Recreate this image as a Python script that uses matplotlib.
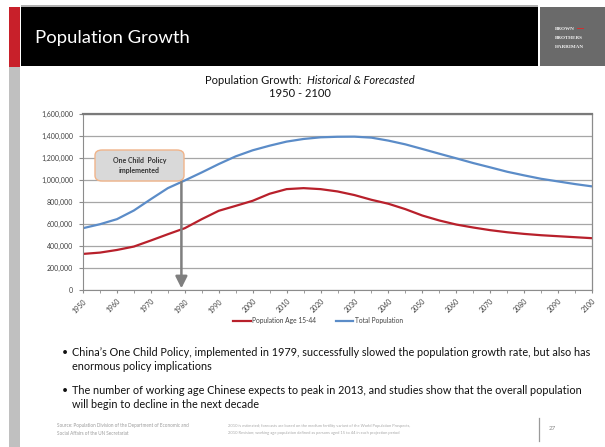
import matplotlib
matplotlib.use("Agg")
import matplotlib.pyplot as plt
from matplotlib.patches import Rectangle, FancyBboxPatch
from matplotlib.lines import Line2D
from matplotlib.ticker import FuncFormatter, MultipleLocator

# ---------------- data ----------------
years = list(range(1950, 2101, 5))
total_population = [562000, 598000, 644000, 723000, 826000, 926000, 996000, 1069000,
                    1145000, 1215000, 1270000, 1312000, 1349000, 1373000, 1388000, 1393000,
                    1394000, 1385000, 1358000, 1324000, 1282000, 1239000, 1197000, 1154000,
                    1115000, 1075000, 1042000, 1011000, 987000, 963000, 942000]
population_15_44 = [328000, 340000, 364000, 395000, 450000, 507000, 562000, 644000,
                    720000, 765000, 811000, 875000, 917000, 926000, 917000, 896000,
                    863000, 820000, 784000, 735000, 677000, 632000, 595000, 568000,
                    544000, 525000, 510000, 498000, 489000, 480000, 471000]
x_tick_years = list(range(1950, 2101, 10))
y_ticks = list(range(0, 1600001, 200000))
policy_year = 1979

chart_title_plain = "Population Growth:  "
chart_title_italic = "Historical & Forecasted"
chart_subtitle = "1950 - 2100"
slide_title = "Population Growth"
annotation_text = "One Child  Policy\nimplemented"
series_labels = ["Population Age 15-44", "Total Population"]
bullets = [
    ("China\u2019s One Child Policy, implemented in 1979, successfully slowed the population growth rate, but also has",
     "enormous policy implications"),
    ("The number of working age Chinese expects to peak in 2013, and studies show that the overall population",
     "will begin to decline in the next decade"),
]
source_text = "Source: Population Division of the Department of Economic and\nSocial Affairs of the UN Secretariat"
note_text = ("2010 is estimated; forecasts are based on the medium fertility variant of the World Population Prospects,\n"
             "2010 Revision; working age population defined as persons aged 15 to 44 in each projection period")
page_number = "27"

# ---------------- figure ----------------
W, H = 605, 447
fig = plt.figure(figsize=(W / 100, H / 100), dpi=100)
fig.patch.set_facecolor("white")
FONT = ["Lato", "DejaVu Sans"]


def fx(px):
    return px / W


def fy(py):
    return 1 - py / H


def rect(x0, y0, x1, y1, color, **kw):
    fig.patches.append(Rectangle((fx(x0), fy(y1)), fx(x1) - fx(x0), fy(y0) - fy(y1),
                                 transform=fig.transFigure, facecolor=color,
                                 edgecolor="none", **kw))


# header
rect(9, 7, 19.5, 67, "#c8202a")
rect(9, 67, 19.5, 447, "#c0c0c0")
rect(21, 7, 538, 66, "#000000")
rect(540, 7, 605, 66, "#6a6a6a")
rect(21, 5.5, 538, 7, "#b0b0b0")
fig.text(fx(35), fy(38), slide_title, color="white", fontsize=13.3, family=FONT,
         va="center", ha="left")
for i, word in enumerate(["BROWN", "BROTHERS", "HARRIMAN"]):
    fig.text(fx(555), fy(28.5 + 9.5 * i), word, color="#f0f0f0", fontsize=3.7,
             family=["Liberation Serif", "DejaVu Serif"], weight="bold",
             va="center", ha="left")
rect(577, 27.8, 584, 29.3, "#d03030")

# chart title
renderer = fig.canvas.get_renderer()
t1 = fig.text(0, fy(80), chart_title_plain, fontsize=8, family=FONT, va="center", ha="left",
              color="#111111")
t2 = fig.text(0, fy(80), chart_title_italic, fontsize=8, family=FONT, style="italic",
              va="center", ha="left", color="#111111")
w1 = t1.get_window_extent(renderer).width
w2 = t2.get_window_extent(renderer).width
start = 310 - (w1 + w2) / 2
t1.set_x(fx(start))
t2.set_x(fx(start + w1))
fig.text(fx(300), fy(93.5), chart_subtitle, fontsize=8, family=FONT, va="center",
         ha="center", color="#111111")

# axes
ax = fig.add_axes([fx(83), fy(290), fx(592) - fx(83), fy(114) - fy(290)])
ax.set_xlim(1950, 2100)
ax.set_ylim(0, 1600000)
ax.set_yticks(y_ticks)
ax.yaxis.set_major_formatter(FuncFormatter(lambda v, p: f"{int(v):,}"))
ax.set_xticks(x_tick_years)
ax.xaxis.set_minor_locator(MultipleLocator(5))
ax.grid(axis="y", color="#a6a6a6", lw=0.9)
ax.set_axisbelow(True)
for s in ["left", "bottom"]:
    ax.spines[s].set_color("#8c8c8c")
    ax.spines[s].set_linewidth(0.8)
ax.spines["top"].set_color("#7a7a7a")
ax.spines["top"].set_linewidth(1.6)
ax.spines["right"].set_color("#8c8c8c")
ax.spines["right"].set_linewidth(0.9)
ax.tick_params(axis="y", length=3, color="#8c8c8c", labelsize=5, labelcolor="#404040", pad=4)
ax.tick_params(axis="x", which="both", length=2.5, color="#8c8c8c", labelsize=5,
               labelcolor="#404040", pad=3)
for lab in ax.get_yticklabels() + ax.get_xticklabels():
    lab.set_family(FONT)
plt.setp(ax.get_xticklabels(), rotation=45, ha="right", va="top", rotation_mode="anchor")

ax.plot(years, population_15_44, color="#b8202b", lw=1.6, solid_capstyle="round")
ax.plot(years, total_population, color="#5b8cc8", lw=1.6, solid_capstyle="round")

# annotation arrow and box
ax.annotate("", xy=(policy_year, 15000), xytext=(policy_year, 985000),
            arrowprops=dict(arrowstyle="-|>,head_width=0.35,head_length=0.7",
                            color="#7f7f7f", lw=1.8, shrinkA=0, shrinkB=0))
box = FancyBboxPatch((fx(95), fy(181)), fx(184) - fx(95), fy(150) - fy(181),
                     boxstyle="round,pad=0,rounding_size=0.012",
                     transform=fig.transFigure, facecolor="#d9d9d9",
                     edgecolor="#f0b48a", lw=1.0, zorder=5)
fig.patches.append(box)
fig.text(fx(139.5), fy(165.5), annotation_text, fontsize=5, family=FONT, weight="bold",
         color="#333333", ha="center", va="center", linespacing=1.5, zorder=6)

# legend
handles = [Line2D([], [], color="#b8202b", lw=1.6), Line2D([], [], color="#5b8cc8", lw=1.6)]
fig.legend(handles, series_labels, loc="center", bbox_to_anchor=(fx(318), fy(321)),
           ncol=2, frameon=False, prop={"family": FONT, "size": 4.8},
           handlelength=2.6, handletextpad=0.2, columnspacing=3.0,
           labelcolor="#404040")

# bullets
ys = [(352, 366), (391, 404)]
for (l1, l2), (y1, y2) in zip(bullets, ys):
    fig.text(fx(62), fy(y1), "\u2022", fontsize=7.5, family=FONT, va="center", color="#111111")
    fig.text(fx(72), fy(y1), l1, fontsize=7.8, family=FONT, va="center", color="#111111")
    fig.text(fx(72), fy(y2), l2, fontsize=7.8, family=FONT, va="center", color="#111111")

# footer
fig.text(fx(57), fy(429.5), source_text, fontsize=3.3, family=FONT, va="center",
         color="#9a9a9a", linespacing=1.6)
fig.text(fx(228), fy(429.5), note_text, fontsize=2.9, family=FONT, va="center",
         color="#a8a8a8", linespacing=1.8)
fig.lines.append(Line2D([fx(539), fx(539)], [fy(418), fy(441)], transform=fig.transFigure,
                        color="#9a9a9a", lw=0.9))
fig.text(fx(549), fy(429), page_number, fontsize=4.5, family=FONT, va="center",
         color="#8a8a8a")

fig.savefig("out.png", dpi=100)
